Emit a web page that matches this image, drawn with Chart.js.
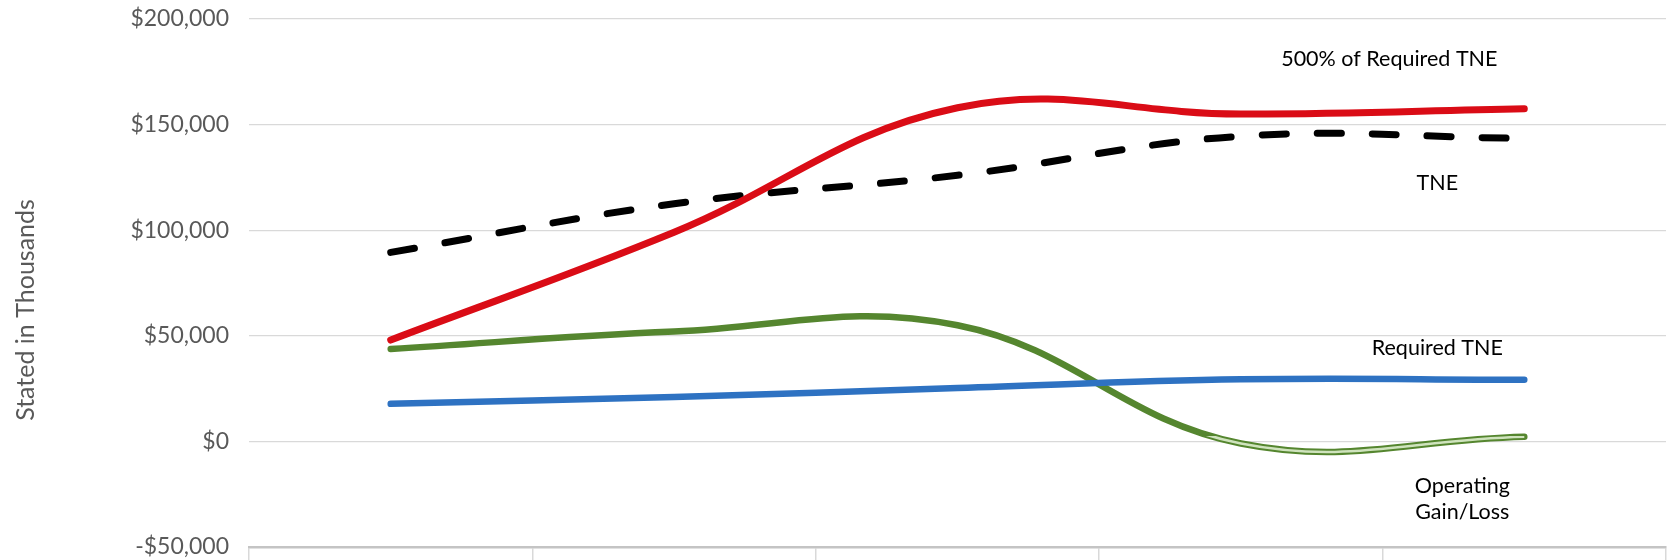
<!DOCTYPE html>
<html>
<head>
<meta charset="utf-8">
<script src="https://cdn.jsdelivr.net/npm/chart.js@4"></script>
<style>
  html, body { margin: 0; padding: 0; background: #fff; overflow: hidden; }
  #wrap { width: 1672px; height: 600px; }
</style>
</head>
<body>
<div id="wrap"><canvas id="graficoTNE" width="1672" height="600"></canvas></div>
<script>

// DATOS

const categories = ['FY 2013-14', 'FY 2014-15', 'FY 2015-16', 'FY 2016-17', 'FY 2017-18'];
const tne500 = [48000, 99000, 158000, 155000, 157500];
const tne = [89500, 112500, 126000, 144500, 143500];
const requiredTNE = [17800, 21000, 25300, 29400, 29200];
const operatingGainLoss = [43700, 52000, 55000, -1000, 2200];
const yTicks = [-50000, 0, 50000, 100000, 150000, 200000];

const seriesNames = ['500% of Required TNE', 'TNE', 'Required TNE', 'Operating Gain/Loss'];
const yTitle = 'Stated in Thousands';

// below this value the green line is drawn hollow
const OUTLINE_BELOW = 2500;

const fontFamily = 'Lato, "Open Sans", sans-serif';

function money(v) {
  const s = '$' + Math.abs(v).toLocaleString('en-US');
  return v < 0 ? '-' + s : s;
}

// line labels next to the last point of each series + axis title
const endLabels = {
  id: 'endLabels',
  afterDatasetsDraw(chart, args, opts) {
    const ctx = chart.ctx;
    ctx.save();
    ctx.font = opts.font;
    ctx.fillStyle = opts.color;
    ctx.textAlign = 'center';
    ctx.textBaseline = 'middle';
    opts.items.forEach(item => {
      const meta = chart.getDatasetMeta(item.ds);
      const last = meta.data[meta.data.length - 1];
      item.lines.forEach((line, i) => {
        ctx.fillText(line, last.x + item.dx, last.y + item.dy + i * opts.lineHeight);
      });
    });
    ctx.restore();

    // titulo del eje (Excel lo pone un poco mas abajo del centro)
    const t = opts.title;
    ctx.save();
    ctx.font = t.font;
    ctx.fillStyle = t.color;
    ctx.textAlign = 'center';
    ctx.textBaseline = 'middle';
    ctx.translate(t.x, chart.chartArea.top + (chart.chartArea.bottom - chart.chartArea.top) / 2 + t.dy);
    ctx.rotate(-Math.PI / 2);
    ctx.fillText(t.text, 0, 0);
    ctx.restore();
  }
};

function hollowColor(context) {
  const chart = context.chart;
  const area = chart.chartArea;
  if (!area) return 'rgba(0,0,0,0)';
  const yCut = chart.scales.y.getPixelForValue(OUTLINE_BELOW);
  const f = Math.min(1, Math.max(0, (yCut - area.top) / (area.bottom - area.top)));
  const g = chart.ctx.createLinearGradient(0, area.top, 0, area.bottom);
  g.addColorStop(0, 'rgba(0,0,0,0)');
  g.addColorStop(f, 'rgba(0,0,0,0)');
  g.addColorStop(f, '#cfe3bd');
  g.addColorStop(1, '#cfe3bd');
  return g;
}

const data = {
  labels: categories,
  datasets: [{
    label: 'hollow',
    data: operatingGainLoss,
    borderColor: hollowColor,
    borderWidth: 2.5,
    order: -1
  }, {
    label: seriesNames[0],
    data: tne500,
    borderColor: '#da0c16',
    borderWidth: 7,
    borderCapStyle: 'round'
  }, {
    label: seriesNames[1],
    data: tne,
    borderColor: '#000000',
    borderWidth: 7,
    borderDash: [24, 31],
    borderCapStyle: 'round'
  }, {
    label: seriesNames[2],
    data: requiredTNE,
    borderColor: '#2e72c2',
    borderWidth: 6.5,
    borderCapStyle: 'round'
  }, {
    label: seriesNames[3],
    data: operatingGainLoss,
    borderColor: '#55862f',
    borderWidth: 6.5,
    borderCapStyle: 'round'
  }]
};

const config = {
  type: 'line',
  data: data,
  options: {
    responsive: false,
    animation: false,
    layout: { padding: { top: 19, right: 6, left: 0, bottom: 0 } },
    elements: {
      point: { radius: 0, hoverRadius: 0 },
      line: { tension: 0.4, fill: false }
    },
    plugins: {
      legend: { display: false },
      tooltip: { enabled: false },
      endLabels: {
        font: '21.5px ' + fontFamily,
        color: '#000000',
        lineHeight: 26,
        items: [
          { ds: 1, lines: ['500% of Required TNE'], dx: -135, dy: -50 },
          { ds: 2, lines: ['TNE'], dx: -87, dy: 45 },
          { ds: 3, lines: ['Required TNE'], dx: -87, dy: -32 },
          { ds: 4, lines: ['Operating', 'Gain/Loss'], dx: -62, dy: 49 }
        ],
        title: {
          text: yTitle,
          font: '25px ' + fontFamily,
          color: '#595959',
          x: 26,
          dy: 27
        }
      }
    },
    scales: {
      x: {
        offset: true,
        grid: {
          display: true,
          drawOnChartArea: false,
          drawTicks: true,
          tickLength: 14,
          offset: true,
          color: '#d9d9d9',
          lineWidth: 1.5
        },
        border: { display: true, color: '#c4c4c4', width: 2.5 },
        ticks: {
          font: { family: fontFamily, size: 22 },
          color: '#595959',
          padding: 6,
          maxRotation: 0
        },
        afterFit(scale) { scale.height = 53; }
      },
      y: {
        min: yTicks[0],
        max: yTicks[yTicks.length - 1],
        afterBuildTicks(scale) { scale.ticks = yTicks.map(v => ({ value: v })); },
        grid: {
          color: '#d9d9d9',
          lineWidth: 1.3,
          drawTicks: true,
          tickLength: 18,
          tickColor: 'rgba(0,0,0,0)'
        },
        border: { display: false },
        ticks: {
          font: { family: fontFamily, size: 23 },
          color: '#595959',
          padding: 2,
          callback: v => money(v)
        },
        title: { display: false },
        afterFit(scale) { scale.width = 249; }
      }
    }
  },
  plugins: [endLabels]
};

var graficoTNE = new Chart(document.getElementById('graficoTNE'), config);

</script>
</body>
</html>
